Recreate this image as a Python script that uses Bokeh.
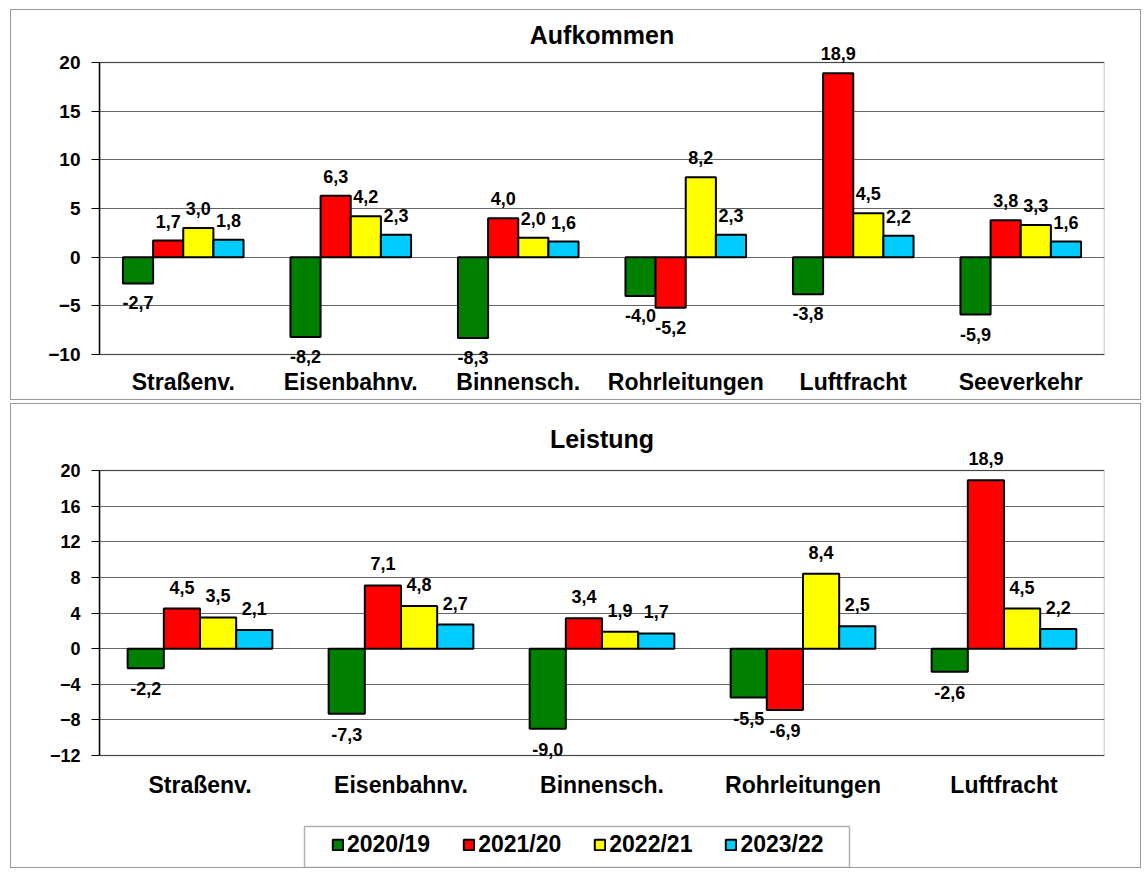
from bokeh.plotting import figure
from bokeh.models import (ColumnDataSource, FactorRange, FixedTicker, LabelSet, Label,
                          Legend, LegendItem, Column, BoxAnnotation)
from bokeh.core.properties import value
from bokeh.transform import dodge
from bokeh.embed import file_html
from bokeh.resources import INLINE

# ---------------- data ----------------
series = ["2020/19", "2021/20", "2022/21", "2023/22"]
colors = ["#008000", "#FF0000", "#FFFF00", "#00CCFF"]

cats_top = ["Straßenv.", "Eisenbahnv.", "Binnensch.", "Rohrleitungen", "Luftfracht", "Seeverkehr"]
top_2020 = [-2.7, -8.2, -8.3, -4.0, -3.8, -5.9]
top_2021 = [1.7, 6.3, 4.0, -5.2, 18.9, 3.8]
top_2022 = [3.0, 4.2, 2.0, 8.2, 4.5, 3.3]
top_2023 = [1.8, 2.3, 1.6, 2.3, 2.2, 1.6]
top_ticks = [-10, -5, 0, 5, 10, 15, 20]

cats_bot = ["Straßenv.", "Eisenbahnv.", "Binnensch.", "Rohrleitungen", "Luftfracht"]
bot_2020 = [-2.2, -7.3, -9.0, -5.5, -2.6]
bot_2021 = [4.5, 7.1, 3.4, -6.9, 18.9]
bot_2022 = [3.5, 4.8, 1.9, 8.4, 4.5]
bot_2023 = [2.1, 2.7, 1.7, 2.5, 2.2]
bot_ticks = [-12, -8, -4, 0, 4, 8, 12, 16, 20]

FONT = "Liberation Sans"
BAR_W = 0.18
MB_LEFT, MB_RIGHT = 88, 38


def fmt(v):
    return f"{v:.1f}".replace(".", ",")


def make_panel(title, cats, vals, ticks, width, height, box_top_px, box_bot_px,
               title_px, cat_px, mb_top, mb_bot, tick_size, lab_size, off_pos, off_neg,
               legend_box=None):
    # pixel layout (canvas coordinates): frame spans mb_top .. height-mb_bot;
    # the visible plot box spans box_top_px .. box_bot_px
    frame_top = mb_top
    frame_bot = height - mb_bot
    lo, hi = ticks[0], ticks[-1]
    s = (box_bot_px - box_top_px) / (hi - lo)
    y_hi = hi + (box_top_px - frame_top) / s
    y_lo = lo - (frame_bot - box_bot_px) / s
    y_title = hi + (box_top_px - title_px) / s
    y_cat = lo - (cat_px - box_bot_px) / s
    cat_w = (width - MB_LEFT - MB_RIGHT) / len(cats)

    p = figure(x_range=FactorRange(*cats), y_range=(y_lo, y_hi),
               width=width, height=height, output_backend="svg", toolbar_location=None,
               x_axis_location=None,
               min_border_left=MB_LEFT, min_border_right=MB_RIGHT,
               min_border_top=mb_top, min_border_bottom=mb_bot,
               styles={"border": "1px solid #9a9a9a"})
    p.outline_line_color = None
    p.xgrid.grid_line_color = None
    p.ygrid.ticker = FixedTicker(ticks=ticks)
    p.ygrid.grid_line_color = "#666666"
    p.ygrid.grid_line_width = 1.2
    p.yaxis.ticker = FixedTicker(ticks=ticks)
    p.yaxis.bounds = (lo, hi)
    p.yaxis.minor_tick_line_color = None
    p.yaxis.major_tick_in = 0
    p.yaxis.major_tick_out = 8
    p.yaxis.major_tick_line_color = "black"
    p.yaxis.axis_line_color = "black"
    p.yaxis.axis_line_width = 1.5
    p.yaxis.major_label_text_font = FONT
    p.yaxis.major_label_text_font_size = tick_size
    p.yaxis.major_label_text_font_style = "bold"
    p.yaxis.major_label_text_color = "black"
    p.yaxis.major_label_standoff = 11

    p.add_layout(BoxAnnotation(bottom=lo, top=hi, fill_alpha=0, line_color="black",
                               line_width=1.5))

    p.add_layout(Label(x=len(cats) / 2, y=y_title, text=title, text_align="center",
                       text_baseline="middle", text_font=FONT, text_font_size="25px",
                       text_font_style="bold", text_color="black"))

    p.text(x=cats, y=[y_cat] * len(cats), text=cats, text_align="center",
           text_baseline="middle", text_font=value(FONT), text_font_size="23px",
           text_font_style="bold", text_color="black")

    offsets = [-1.5 * BAR_W, -0.5 * BAR_W, 0.5 * BAR_W, 1.5 * BAR_W]
    items = []
    for name, col, off, v in zip(series, colors, offsets, vals):
        src = ColumnDataSource(dict(
            cat=cats, val=v,
            ptxt=[fmt(x) if x >= 0 else "" for x in v],
            ntxt=[fmt(x) if x < 0 else "" for x in v],
        ))
        r = p.vbar(x=dodge("cat", off, range=p.x_range), top="val", bottom=0, width=BAR_W,
                   source=src, fill_color=col, line_color="black", line_width=2)
        items.append(LegendItem(label=name, renderers=[r]))
        lp = LabelSet(x=dodge("cat", off, range=p.x_range), y="val", text="ptxt", source=src,
                      text_align="center", text_baseline="alphabetic", y_offset=off_pos,
                      text_font=value(FONT), text_font_size=lab_size, text_font_style="bold",
                      text_color="black")
        ln = LabelSet(x=dodge("cat", off, range=p.x_range), y="val", text="ntxt", source=src,
                      text_align="center", text_baseline="top", y_offset=-off_neg,
                      text_font=value(FONT), text_font_size=lab_size, text_font_style="bold",
                      text_color="black")
        p.add_layout(lp)
        p.add_layout(ln)

    if legend_box is not None:
        bl, bt, br, bb, glyph_x, item_cy = legend_box  # canvas pixels
        def xd(px):
            return (px - MB_LEFT) / cat_w
        def yd(py):
            return hi - (py - box_top_px) / s
        p.add_layout(BoxAnnotation(left=xd(bl), right=xd(br), top=yd(bt), bottom=yd(bb),
                                   fill_color="white", fill_alpha=1,
                                   line_color="black", line_width=1.5))
        item_h = 23
        lg = Legend(items=items, orientation="horizontal",
                    location=(glyph_x - MB_LEFT, frame_bot - item_cy - item_h / 2),
                    label_text_font=FONT, label_text_font_size="23px",
                    label_text_font_style="bold", label_text_color="black",
                    glyph_width=13, glyph_height=13, label_standoff=3, spacing=32,
                    label_height=item_h, padding=0, margin=0,
                    border_line_color=None, background_fill_alpha=0)
        p.add_layout(lg)
    return p


# canvas origins at page (11, 10) and (11, 404)
p1 = make_panel("Aufkommen", cats_top, [top_2020, top_2021, top_2022, top_2023], top_ticks,
                1131, 391, box_top_px=52, box_bot_px=344, title_px=24, cat_px=371,
                mb_top=8, mb_bot=4, tick_size="19px", lab_size="18px",
                off_pos=13, off_neg=13)
p2 = make_panel("Leistung", cats_bot, [bot_2020, bot_2021, bot_2022, bot_2023], bot_ticks,
                1131, 465, box_top_px=66, box_bot_px=351, title_px=34, cat_px=380,
                mb_top=8, mb_bot=1, tick_size="18px", lab_size="18px",
                off_pos=15, off_neg=14,
                legend_box=(293, 422, 838, 463, 320, 442))
p2.margin = (3, 0, 0, 0)

layout = Column(p1, p2, margin=(9, 0, 0, 10))
open("out.html", "w").write(file_html(layout, INLINE))
